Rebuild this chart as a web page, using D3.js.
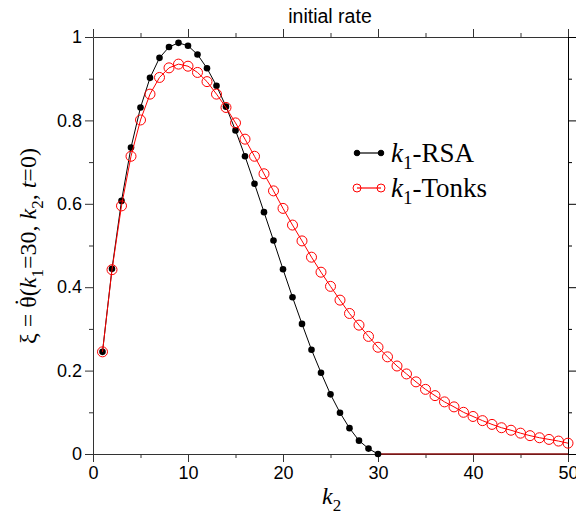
<!DOCTYPE html>
<html>
<head>
<meta charset="utf-8">
<script src="https://cdn.jsdelivr.net/npm/d3@7"></script>
<style>
  body { margin: 0; background: #fff; }
  svg { display: block; }
  .tick text { font-family: "Liberation Sans", Arial, sans-serif; font-size: 18px; fill: #000; }
  .serif { font-family: "Liberation Serif", "Times New Roman", serif; }
</style>
</head>
<body>
<svg id="chart"></svg>
<script>
const W = 576, H = 521;

// k2 values and the initial rate for both models
const rsaK = d3.range(1, 31);
const rsaVals = [0.245, 0.444, 0.607, 0.735, 0.831, 0.902, 0.950, 0.976, 0.986, 0.979,
                 0.958, 0.925, 0.883, 0.833, 0.776, 0.714, 0.648, 0.580, 0.512, 0.443,
                 0.376, 0.312, 0.250, 0.195, 0.143, 0.099, 0.062, 0.032, 0.013, 0.000];
const tailK = [30, 50];
const tailVals = [0, 0];
const tonksK = d3.range(1, 51);
const tonksVals = [0.245, 0.442, 0.595, 0.714, 0.801, 0.863, 0.903, 0.926, 0.935, 0.930,
                   0.915, 0.893, 0.863, 0.831, 0.794, 0.755, 0.714, 0.672, 0.631, 0.589,
                   0.549, 0.511, 0.472, 0.436, 0.402, 0.369, 0.337, 0.309, 0.282, 0.256,
                   0.233, 0.211, 0.192, 0.173, 0.155, 0.140, 0.125, 0.113, 0.100, 0.090,
                   0.080, 0.071, 0.063, 0.057, 0.050, 0.044, 0.039, 0.035, 0.031, 0.026];
const xMajor = [0, 10, 20, 30, 40, 50];
const xMinor = [5, 15, 25, 35, 45];
const yMajor = [0, 0.2, 0.4, 0.6, 0.8, 1];
const yMinor = [0.1, 0.3, 0.5, 0.7, 0.9];
const yLabels = ["0", "0.2", "0.4", "0.6", "0.8", "1"];

const svg = d3.select("#chart").attr("width", W).attr("height", H);

const x = d3.scaleLinear().domain([0, 50]).range([93, 568]);
const y = d3.scaleLinear().domain([0, 1]).range([454, 37]);

function styleAxis(g, color) {
    g.selectAll(".domain, .tick line").attr("stroke", color);
}

// bottom
svg.append("g").attr("transform", `translate(0,${y(0)})`)
    .call(d3.axisBottom(x).tickValues(xMajor).tickSize(8).tickSizeOuter(0).tickPadding(4).tickFormat(d3.format("d")))
    .call(g => styleAxis(g, "#333"));
svg.append("g").attr("transform", `translate(0,${y(0)})`)
    .call(d3.axisBottom(x).tickValues(xMinor).tickSize(4).tickSizeOuter(0).tickFormat(""))
    .call(g => g.select(".domain").remove()).call(g => styleAxis(g, "#333"));
// top
svg.append("g").attr("transform", `translate(0,${y(1)})`)
    .call(d3.axisTop(x).tickValues(xMajor).tickSize(8).tickSizeOuter(0).tickFormat(""))
    .call(g => styleAxis(g, "#333"));
svg.append("g").attr("transform", `translate(0,${y(1)})`)
    .call(d3.axisTop(x).tickValues(xMinor).tickSize(4).tickSizeOuter(0).tickFormat(""))
    .call(g => g.select(".domain").remove()).call(g => styleAxis(g, "#333"));
// left
svg.append("g").attr("transform", `translate(${x(0)},0)`)
    .call(d3.axisLeft(y).tickValues(yMajor).tickSize(8).tickSizeOuter(0).tickPadding(3).tickFormat((d, i) => yLabels[i]))
    .call(g => styleAxis(g, "#333"));
svg.append("g").attr("transform", `translate(${x(0)},0)`)
    .call(d3.axisLeft(y).tickValues(yMinor).tickSize(4).tickSizeOuter(0).tickFormat(""))
    .call(g => g.select(".domain").remove()).call(g => styleAxis(g, "#333"));
// right
svg.append("g").attr("transform", `translate(${x(50)},0)`)
    .call(d3.axisRight(y).tickValues(yMajor).tickSize(8).tickSizeOuter(0).tickFormat(""))
    .call(g => styleAxis(g, "#000"));
svg.append("g").attr("transform", `translate(${x(50)},0)`)
    .call(d3.axisRight(y).tickValues(yMinor).tickSize(4).tickSizeOuter(0).tickFormat(""))
    .call(g => g.select(".domain").remove()).call(g => styleAxis(g, "#000"));

const line = d3.line().x(d => x(d[0])).y(d => y(d[1]));
const tonks = tonksK.map((k, i) => [k, tonksVals[i]]);
const rsa = rsaK.map((k, i) => [k, rsaVals[i]]);
const tail = tailK.map((k, i) => [k, tailVals[i]]);

svg.append("path").datum(tail).attr("d", line)
    .attr("fill", "none").attr("stroke", "#8a1010").attr("stroke-width", 1.5);

svg.append("path").datum(rsa).attr("d", line)
    .attr("fill", "none").attr("stroke", "#000").attr("stroke-width", 1);
svg.append("g").selectAll("circle").data(rsa).join("circle")
    .attr("cx", d => x(d[0])).attr("cy", d => y(d[1])).attr("r", 3.3).attr("fill", "#000");

svg.append("path").datum(tonks).attr("d", line)
    .attr("fill", "none").attr("stroke", "#f00").attr("stroke-width", 1);
svg.append("g").selectAll("circle").data(tonks).join("circle")
    .attr("cx", d => x(d[0])).attr("cy", d => y(d[1])).attr("r", 5)
    .attr("fill", "none").attr("stroke", "#f00").attr("stroke-width", 1);

// title
svg.append("text").attr("x", 330).attr("y", 23).attr("text-anchor", "middle")
    .attr("font-family", "Liberation Sans, Arial, sans-serif").attr("font-size", 19.5)
    .text("initial rate");

// legend
const legend = [
    { name: "RSA", color: "#000", filled: true, y: 153 },
    { name: "Tonks", color: "#f00", filled: false, y: 188 }
];
legend.forEach(l => {
    svg.append("line").attr("x1", 357).attr("x2", 381).attr("y1", l.y).attr("y2", l.y)
        .attr("stroke", l.color).attr("stroke-width", 1.2);
    [357, 381].forEach(cx => {
        svg.append("circle").attr("cx", cx).attr("cy", l.y).attr("r", l.filled ? 2.8 : 4)
            .attr("fill", l.filled ? l.color : "none").attr("stroke", l.color).attr("stroke-width", 1);
    });
    const t = svg.append("text").attr("class", "serif").attr("x", 391).attr("y", l.y + 9)
        .attr("font-size", 27);
    t.append("tspan").attr("font-style", "italic").text("k");
    t.append("tspan").attr("font-size", 19).attr("dy", 7).text("1");
    t.append("tspan").attr("dy", -7).text("-" + l.name);
});

// x label
const xl = svg.append("text").attr("class", "serif").attr("x", 322).attr("y", 504).attr("font-size", 24);
xl.append("tspan").attr("font-style", "italic").text("k");
xl.append("tspan").attr("font-size", 17).attr("dy", 7).text("2");

// y label
const yl = svg.append("text").attr("class", "serif")
    .attr("transform", "translate(36,246) rotate(-90)")
    .attr("text-anchor", "middle").attr("font-size", 24);
yl.append("tspan").text("ξ = θ");
yl.append("tspan").attr("dx", -10).attr("dy", -5).text("\u02D9");
yl.append("tspan").attr("dx", 2).attr("dy", 5).text("(");
yl.append("tspan").attr("font-style", "italic").text("k");
yl.append("tspan").attr("font-size", 17).attr("dy", 7).text("1");
yl.append("tspan").attr("dy", -7).text("=30, ");
yl.append("tspan").attr("font-style", "italic").text("k");
yl.append("tspan").attr("font-size", 17).attr("dy", 7).text("2");
yl.append("tspan").attr("dy", -7).text(", ");
yl.append("tspan").attr("font-style", "italic").text("t");
yl.append("tspan").text("=0)");
</script>
</body>
</html>
